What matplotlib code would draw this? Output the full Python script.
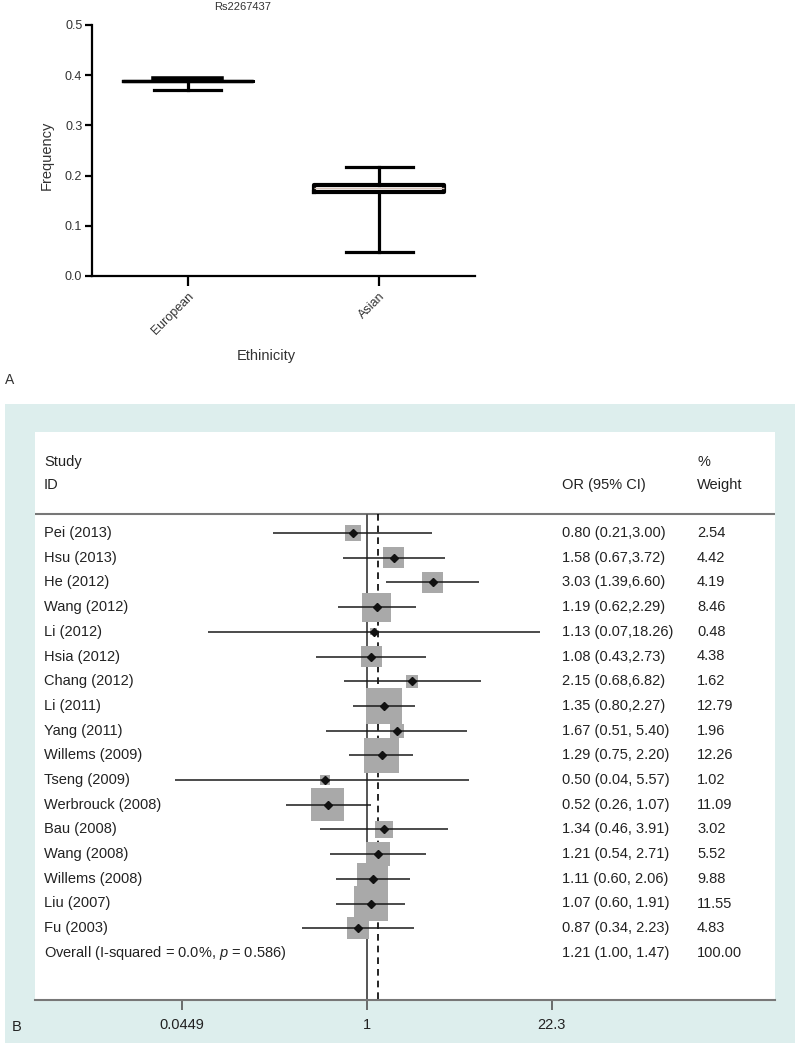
import matplotlib
matplotlib.use('Agg')
import matplotlib.pyplot as plt
import numpy as np
from matplotlib.patches import Rectangle
from matplotlib.transforms import blended_transform_factory

plt.rcParams['font.family'] = ['Liberation Sans', 'DejaVu Sans']
plt.rcParams['mathtext.fontset'] = 'custom'
plt.rcParams['mathtext.rm'] = 'Liberation Sans'
plt.rcParams['mathtext.it'] = 'Liberation Sans:italic'

# panel A: allele frequency by ethnicity
groups = ['European', 'Asian']
whis_lo = [0.371, 0.048]
q1 = [0.388, 0.168]
med = [0.388, 0.175]
q3 = [0.388, 0.181]
whis_hi = [0.393, 0.217]

# panel B: forest plot
studies = ['Pei (2013)', 'Hsu (2013)', 'He (2012)', 'Wang (2012)', 'Li (2012)',
           'Hsia (2012)', 'Chang (2012)', 'Li (2011)', 'Yang (2011)', 'Willems (2009)',
           'Tseng (2009)', 'Werbrouck (2008)', 'Bau (2008)', 'Wang (2008)',
           'Willems (2008)', 'Liu (2007)', 'Fu (2003)']
odds = [0.80, 1.58, 3.03, 1.19, 1.13, 1.08, 2.15, 1.35, 1.67, 1.29,
        0.50, 0.52, 1.34, 1.21, 1.11, 1.07, 0.87]
ci_lo = [0.21, 0.67, 1.39, 0.62, 0.07, 0.43, 0.68, 0.80, 0.51, 0.75,
         0.04, 0.26, 0.46, 0.54, 0.60, 0.60, 0.34]
ci_hi = [3.00, 3.72, 6.60, 2.29, 18.26, 2.73, 6.82, 2.27, 5.40, 2.20,
         5.57, 1.07, 3.91, 2.71, 2.06, 1.91, 2.23]
weight = [2.54, 4.42, 4.19, 8.46, 0.48, 4.38, 1.62, 12.79, 1.96, 12.26,
          1.02, 11.09, 3.02, 5.52, 9.88, 11.55, 4.83]
overall = [1.21, 1.00, 1.47, 100.00]
overall_label = 'Overall (I-squared = 0.0%, $p$ = 0.586)'
xticks_b = [0.0449, 1, 22.3]

W, H = 800, 1047
fig = plt.figure(figsize=(W / 100, H / 100), dpi=100)

def fx(px):
    return px / W

def fy(py):
    return 1 - py / H

# ---- panel A
ax1 = fig.add_axes([fx(92), fy(276), fx(475 - 92), (276 - 25) / H])
stats = []
for i in range(len(groups)):
    stats.append(dict(label=groups[i], whislo=whis_lo[i], q1=q1[i], med=med[i],
                      q3=q3[i], whishi=whis_hi[i]))
lw = 2.3
res = ax1.bxp(stats, positions=[0, 1], widths=0.68, capwidths=[0.35, 0.35],
              showfliers=False,
              boxprops=dict(color='black', linewidth=3.0),
              whiskerprops=dict(color='black', linewidth=lw),
              capprops=dict(color='black', linewidth=lw),
              medianprops=dict(color='#d8c4ba', linewidth=1.0))
# upper European cap drawn heavier, as in the original
res['caps'][1].set_linewidth(4.0)
res['medians'][0].set_color('black')
res['medians'][0].set_linewidth(lw)
res['boxes'][0].set_linewidth(lw)

ax1.set_xlim(-0.5, 1.5)
ax1.set_ylim(0, 0.5)
ax1.set_yticks([0.0, 0.1, 0.2, 0.3, 0.4, 0.5])
ax1.set_yticklabels(['0.0', '0.1', '0.2', '0.3', '0.4', '0.5'])
ax1.set_xticks([0, 1])
ax1.set_xticklabels(groups, rotation=45, ha='right', rotation_mode='anchor')
for s in ['top', 'right']:
    ax1.spines[s].set_visible(False)
for s in ['left', 'bottom']:
    ax1.spines[s].set_linewidth(1.6)
ax1.tick_params(axis='y', length=5, width=1.6, labelsize=9, colors='black',
                labelcolor='#333333', pad=2)
ax1.tick_params(axis='x', length=7, width=1.6, labelsize=9, colors='black',
                labelcolor='#333333', pad=3)

fig.text(fx(243), fy(7), 'Rs2267437', ha='center', va='center', fontsize=8, color='#333333')
fig.text(fx(47), fy(155), 'Frequency', ha='center', va='center', rotation=90,
         fontsize=10.5, color='#333333')
fig.text(fx(266), fy(356), 'Ethinicity', ha='center', va='center', fontsize=10.5, color='#333333')
fig.text(fx(5), fy(380), 'A', ha='left', va='center', fontsize=10, color='#333333')

# ---- panel B
fig.patches.append(Rectangle((fx(5), fy(1043)), fx(790), (1043 - 404) / H,
                             transform=fig.transFigure, facecolor='#ddeeed',
                             edgecolor='none', zorder=-1))

ax2 = fig.add_axes([fx(35), fy(1000), fx(740), (1000 - 432) / H])
ax2.set_facecolor('white')
ax2.set_xscale('log')
scale = 59.6  # px per log unit
x_one = 366.5
ax2.set_xlim(np.exp((35 - x_one) / scale), np.exp((775 - x_one) / scale))
row_h = 24.7
row0 = 533
ax2.set_ylim((1000 - row0) / row_h, (432 - row0) / row_h)

tr = blended_transform_factory(ax2.transAxes, ax2.transData)
tcol = '#222222'
fs = 10.5
x_name, x_or, x_w = (44 - 35) / 740, (562 - 35) / 740, (697 - 35) / 740

def row(py):
    return (py - row0) / row_h

ax2.text(x_name, row(462), 'Study', transform=tr, ha='left', va='center', fontsize=fs, color=tcol)
ax2.text(x_name, row(485), 'ID', transform=tr, ha='left', va='center', fontsize=fs, color=tcol)
ax2.text(x_or, row(485), 'OR (95% CI)', transform=tr, ha='left', va='center', fontsize=fs, color=tcol)
ax2.text(x_w, row(462), '%', transform=tr, ha='left', va='center', fontsize=fs, color=tcol)
ax2.text(x_w, row(485), 'Weight', transform=tr, ha='left', va='center', fontsize=fs, color=tcol)
ax2.axhline(row(514), color='#777777', linewidth=1.5)

n = len(studies)
ys = np.arange(n)
ybot = ax2.get_ylim()[0]
ax2.vlines(1, row(514), ybot, color='#555555', linewidth=1.4, zorder=2)
ax2.vlines(overall[0], row(514), ybot, color='black', linewidth=1.2,
           linestyles=(0, (4, 3)), zorder=2)

ax2.scatter(odds, ys, marker='s', s=np.array(weight) * 52, color='#a9a9a9',
            edgecolors='none', zorder=3)
ax2.hlines(ys, ci_lo, ci_hi, color='#1a1a1a', linewidth=1.1, zorder=4)
ax2.plot(odds, ys, 'D', color='#111111', markersize=4.2, zorder=5)

for i in range(n):
    sep = ',' if i < 8 else ', '
    ax2.text(x_name, ys[i], studies[i], transform=tr, ha='left', va='center',
             fontsize=fs, color=tcol)
    ax2.text(x_or, ys[i], f'{odds[i]:.2f} ({ci_lo[i]:.2f}{sep}{ci_hi[i]:.2f})',
             transform=tr, ha='left', va='center', fontsize=fs, color=tcol)
    ax2.text(x_w, ys[i], f'{weight[i]:.2f}', transform=tr, ha='left', va='center',
             fontsize=fs, color=tcol)
ax2.text(x_name, n, overall_label, transform=tr, ha='left', va='center',
         fontsize=fs, color=tcol)
ax2.text(x_or, n, f'{overall[0]:.2f} ({overall[1]:.2f}, {overall[2]:.2f})',
         transform=tr, ha='left', va='center', fontsize=fs, color=tcol)
ax2.text(x_w, n, f'{overall[3]:.2f}', transform=tr, ha='left', va='center',
         fontsize=fs, color=tcol)

for s in ['top', 'right', 'left']:
    ax2.spines[s].set_visible(False)
ax2.spines['bottom'].set_color('#777777')
ax2.spines['bottom'].set_linewidth(1.5)
ax2.xaxis.set_minor_locator(matplotlib.ticker.NullLocator())
ax2.set_xticks(xticks_b)
ax2.set_xticklabels(['0.0449', '1', '22.3'])
ax2.tick_params(axis='x', length=7, width=1.2, colors='#555555', labelcolor=tcol,
                labelsize=fs, pad=6)
ax2.set_yticks([])

fig.text(fx(12), fy(1027), 'B', ha='left', va='center', fontsize=10.5, color=tcol)

fig.savefig('out.png', dpi=100)
